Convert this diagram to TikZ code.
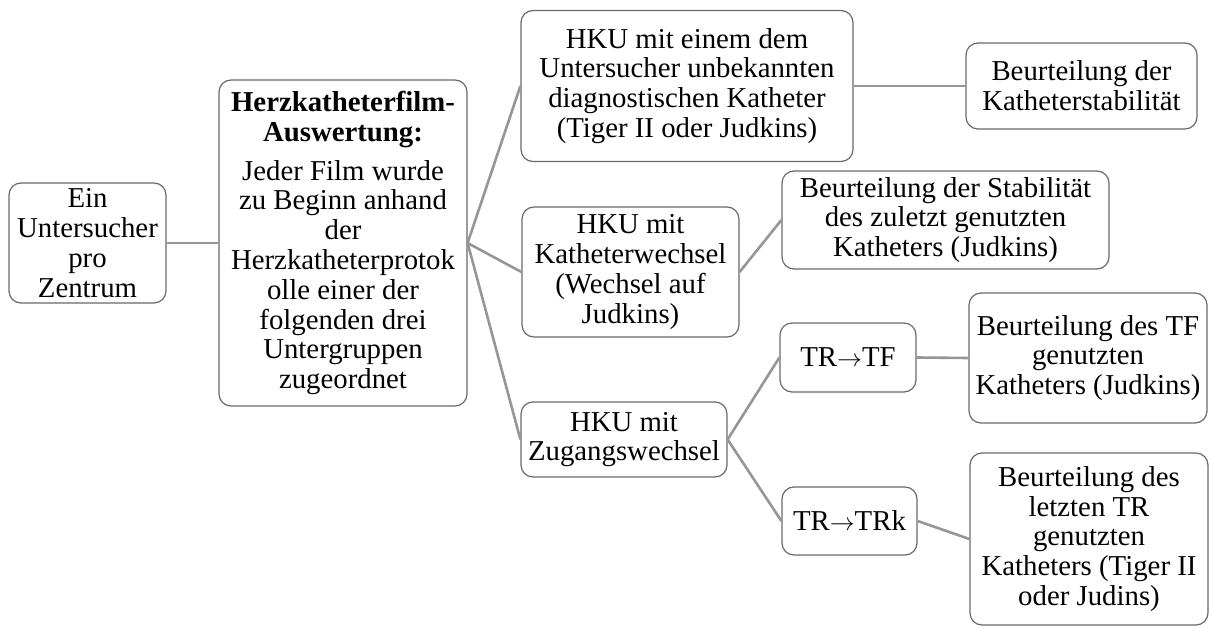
\documentclass[tikz,border=0pt]{standalone}
\usepackage{fontspec}
\setmainfont{Liberation Serif}
\definecolor{boxline}{RGB}{105,105,105}
\definecolor{conline}{RGB}{150,150,150}
\tikzset{
  box/.style={draw=boxline, line width=1.2pt, rounded corners=12pt, fill=white,
    align=center, inner sep=2pt, font=\fontsize{28.8}{29.8}\selectfont},
  con/.style={draw=conline, line width=2.6pt},
}
\begin{document}
\begin{tikzpicture}[x=1pt,y=-1pt]
\useasboundingbox (0,0) rectangle (1211,628);
\node[box, minimum width=157pt, minimum height=120pt] (ein) at (87.5,243) {Ein\\Untersucher\\pro\\Zentrum};
\node[box, minimum width=248pt, minimum height=326pt] (main) at (343,243)
  {\textbf{Herzkatheterfilm-}\\\textbf{Auswertung:}\\[9pt]Jeder Film wurde\\zu Beginn anhand\\der\\Herzkatheterprotok\\olle einer der\\folgenden drei\\Untergruppen\\zugeordnet};
\node[box, minimum width=332pt, minimum height=151pt] (hku1) at (687,86)
  {HKU mit einem dem\\Untersucher unbekannten\\diagnostischen Katheter\\(Tiger II oder Judkins)};
\node[box, minimum width=217pt, minimum height=130pt] (hku2) at (630.5,272)
  {HKU mit\\Katheterwechsel\\(Wechsel auf\\Judkins)};
\node[box, minimum width=206pt, minimum height=75pt] (hku3) at (624,439.5)
  {HKU mit\\Zugangswechsel};
\node[box, minimum width=231pt, minimum height=86pt] (b1) at (1081.5,86)
  {Beurteilung der\\Katheterstabilität};
\node[box, minimum width=327pt, minimum height=98pt] (b2) at (945.5,220)
  {Beurteilung der Stabilität\\des zuletzt genutzten\\Katheters (Judkins)};
\node[box, minimum width=136pt, minimum height=69pt] (trtf) at (848,357.5)
  {TR$\rightarrow$TF};
\node[box, minimum width=135pt, minimum height=68pt] (trtrk) at (849.5,521)
  {TR$\rightarrow$TRk};
\node[box, minimum width=238pt, minimum height=130pt] (btf) at (1088,358)
  {Beurteilung des TF\\genutzten\\Katheters (Judkins)};
\node[box, minimum width=238pt, minimum height=172pt] (btr) at (1089,539)
  {Beurteilung des\\letzten TR\\genutzten\\Katheters (Tiger II\\oder Judins)};
\draw[con] (ein.east) -- (main.west);
\draw[con] (main.east) -- (hku1.west);
\draw[con] (main.east) -- (hku2.west);
\draw[con] (main.east) -- (hku3.west);
\draw[con] (hku1.east) -- (b1.west);
\draw[con] (hku2.east) -- (b2.west);
\draw[con] (hku3.east) -- (trtf.west);
\draw[con] (hku3.east) -- (trtrk.west);
\draw[con] (trtf.east) -- (btf.west);
\draw[con] (trtrk.east) -- (btr.west);
\end{tikzpicture}
\end{document}
